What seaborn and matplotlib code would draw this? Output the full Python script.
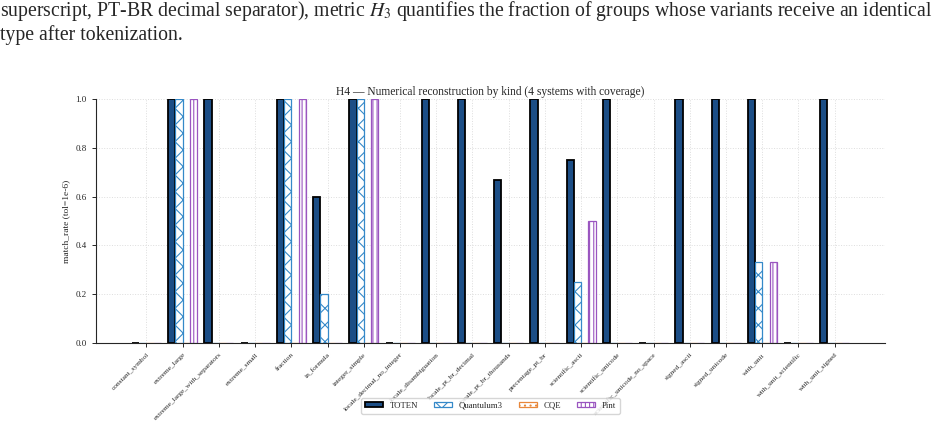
import pandas as pd
import seaborn as sns
import matplotlib
import matplotlib.pyplot as plt

matplotlib.use('Agg')

# Data
kinds = ['constant_symbol', 'extreme_large', 'extreme_large_with_separators',
         'extreme_small', 'fraction', 'in_formula', 'integer_simple',
         'locale_decimal_no_integer', 'locale_disambiguation',
         'locale_pt_br_decimal', 'locale_pt_br_thousands', 'percentage_pt_br',
         'scientific_ascii', 'scientific_unicode', 'scientific_unicode_no_space',
         'signed_ascii', 'signed_unicode', 'with_unit', 'with_unit_scientific',
         'with_unit_signed']
systems = ['TOTEN', 'Quantulum3', 'CQE', 'Pint']
toten = [0, 1, 1, 0, 1, 0.6, 1, 0, 1, 1, 0.667, 1, 0.75, 1, 0, 1, 1, 1, 0, 1]
quantulum3 = [0, 1, 0, 0, 1, 0.2, 1, 0, 0, 0, 0, 0, 0.25, 0, 0, 0, 0, 0.333, 0, 0]
cqe = [0] * 20
pint = [0, 1, 0, 0, 1, 0, 1, 0, 0, 0, 0, 0, 0.5, 0, 0, 0, 0, 0.333, 0, 0]

df = pd.DataFrame({
    'kind': kinds * 4,
    'system': [s for s in systems for _ in kinds],
    'rate': toten + quantulum3 + cqe + pint,
})

sns.set_style('white')
plt.rcParams['font.family'] = ['Liberation Serif', 'DejaVu Serif']
plt.rcParams['mathtext.fontset'] = 'stix'
plt.rcParams['hatch.linewidth'] = 0.8

fig = plt.figure(figsize=(9.48, 4.25), dpi=100)
ax = fig.add_axes([0.101, 0.193, 0.833, 0.574])

sns.barplot(data=df, x='kind', y='rate', hue='system', order=kinds,
            hue_order=systems, width=0.8, ax=ax, legend=False, errorbar=None)

# style each system: fill, edge, hatch
styles = {
    'TOTEN': dict(facecolor='#1c4e86', edgecolor='black', hatch=None, lw=1.3),
    'Quantulum3': dict(facecolor='white', edgecolor='#3589c9', hatch='xx', lw=0.9),
    'CQE': dict(facecolor='white', edgecolor='#e8873a', hatch='...', lw=0.9),
    'Pint': dict(facecolor='white', edgecolor='#9a55c0', hatch='||||', lw=0.9),
}
for cont, name in zip(ax.containers, systems):
    st = styles[name]
    for bar in cont:
        bar.set_facecolor(st['facecolor'])
        bar.set_edgecolor(st['edgecolor'])
        bar.set_linewidth(st['lw'])
        bar.set_hatch(st['hatch'])

ax.set_xlim(-1.4, len(kinds) - 1 + 1.4)
ax.set_ylim(0, 1.0)
ax.set_yticks([0, 0.2, 0.4, 0.6, 0.8, 1.0])
ax.grid(True, linestyle=':', color='#dddddd', linewidth=0.7)
ax.set_axisbelow(True)
sns.despine(ax=ax)
ax.tick_params(axis='both', direction='out', length=3, width=0.7,
               bottom=True, left=True, labelsize=6.5)
ax.set_xticks(range(len(kinds)))
ax.set_xticklabels(kinds, rotation=45, ha='right', rotation_mode='anchor',
                   fontsize=5.3)
ax.set_xlabel('')
ax.set_ylabel('match_rate (tol=1e-6)', fontsize=6.8)
ax.set_title('H4 — Numerical reconstruction by kind (4 systems with coverage)',
             fontsize=8.3, pad=3)

ax.legend(ax.containers, systems, loc='upper center',
          bbox_to_anchor=(0.5, -0.225), borderaxespad=0, ncol=4,
          fontsize=6.3, frameon=True, handlelength=2.0, handleheight=0.6,
          handletextpad=0.75, columnspacing=1.9, borderpad=0.45)

# surrounding paper text from the screenshot
fig.text(0.0, 0.962,
         'superscript, PT-BR decimal separator), metric $H_3$ quantifies the '
         'fraction of groups whose variants receive an identical',
         ha='left', va='baseline', fontsize=14.2)
fig.text(0.0, 0.907, 'type after tokenization.',
         ha='left', va='baseline', fontsize=14.2)

fig.savefig('out.png', dpi=100)
